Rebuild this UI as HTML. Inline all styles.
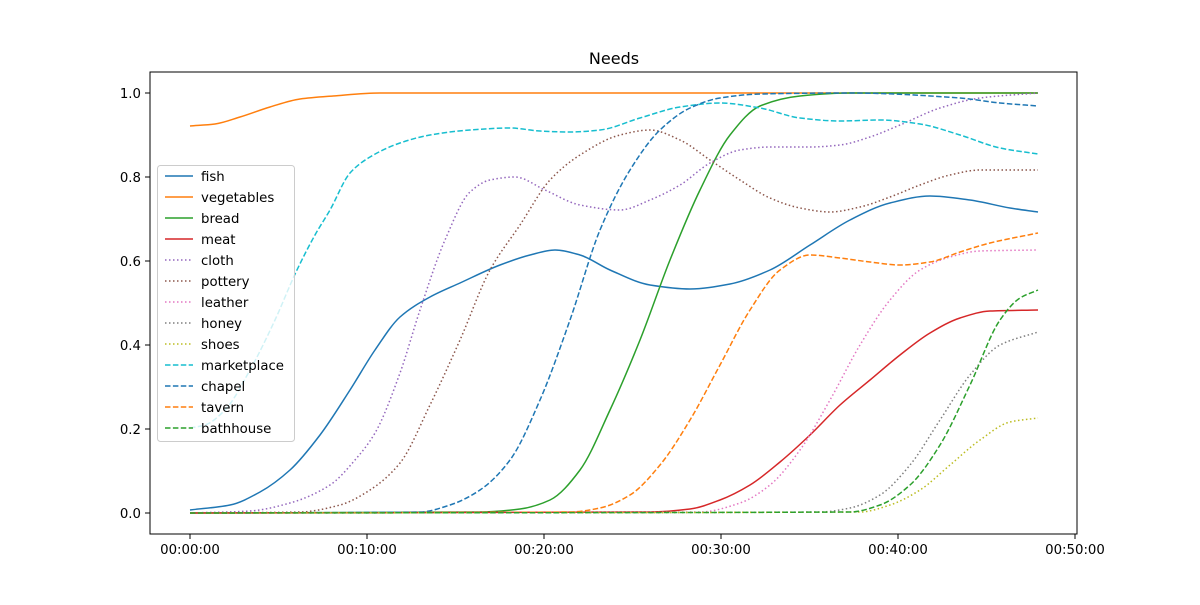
<!DOCTYPE html>
<html><head><meta charset="utf-8"><style>
body{margin:0;background:#fff}
svg text{font-family:"DejaVu Sans","Liberation Sans",sans-serif;font-size:13.3px;fill:#000}
</style></head><body>
<svg id="s" width="1200" height="600" xmlns="http://www.w3.org/2000/svg">
<rect width="1200" height="600" fill="#fff"/>
<text x="614" y="64" text-anchor="middle" style="font-size:16px">Needs</text>
<g id="curves"></g>
<rect x="150" y="72" width="927" height="462" fill="none" stroke="#000" stroke-width="1"/>
<g id="ticks"></g>
<g id="legend"></g>
</svg>
<script>
const NS="http://www.w3.org/2000/svg";
function el(t,a,p){const e=document.createElementNS(NS,t);for(const k in a)e.setAttribute(k,a[k]);p.appendChild(e);return e;}
const T=document.getElementById('ticks');
for(let i=0;i<=5;i++){const v=i*0.2,y=513-420*v;el('line',{x1:150,x2:145,y1:y,y2:y,stroke:'#000'},T);
const t=el('text',{x:141,y:y+5,'text-anchor':'end'},T);t.textContent=v.toFixed(1);}
for(let i=0;i<=5;i++){const x=190+177*i;el('line',{x1:x,x2:x,y1:534,y2:539,stroke:'#000'},T);
const t=el('text',{x:x,y:554,'text-anchor':'middle'},T);t.textContent='00:'+String(i*10).padStart(2,'0')+':00';}
function path(p){const n=p.length,d=[],m=[];
for(let i=0;i<n-1;i++)d.push((p[i+1][1]-p[i][1])/(p[i+1][0]-p[i][0]));
m[0]=d[0];m[n-1]=d[n-2];
for(let i=1;i<n-1;i++){if(d[i-1]*d[i]<=0)m[i]=0;else{const h0=p[i][0]-p[i-1][0],h1=p[i+1][0]-p[i][0];const w1=2*h1+h0,w2=h1+2*h0;m[i]=(w1+w2)/(w1/d[i-1]+w2/d[i]);}}
if(d[0]===0)m[0]=0;if(d[n-2]===0)m[n-1]=0;
let s='M'+p[0][0]+','+p[0][1];
for(let i=0;i<n-1;i++){const h=(p[i+1][0]-p[i][0])/3;
s+=' C'+(p[i][0]+h)+','+(p[i][1]+m[i]*h)+' '+(p[i+1][0]-h)+','+(p[i+1][1]-m[i+1]*h)+' '+p[i+1][0]+','+p[i+1][1];}
return s;}
const SOL='',DOT='1.5,2.5',DASH='5.5,2.4';
const S=[
['fish','#1f77b4',SOL,[[190,510],[230,505],[260,492],[290,470],[320,435],[350,390],[375,350],[400,317],[430,297],[460,283],[500,265],[530,255],[555,250],[580,255],[610,270],[650,285],[690,289],[730,284],[770,270],[810,245],[850,220],[890,203],[930,196],[970,200],[1010,208],[1038,212]]],
['vegetables','#ff7f0e',SOL,[[190,126],[215,124],[240,117],[270,107],[300,99],[333,96],[380,93],[1038,93]]],
['bread','#2ca02c',SOL,[[190,513],[480,512],[520,509],[550,500],[580,470],[610,410],[640,340],[670,260],[700,190],[730,135],[760,106],[800,96],[850,93],[1038,93]]],
['meat','#d62728',SOL,[[190,513],[650,512],[690,509],[720,500],[750,485],[780,462],[810,435],[840,405],[870,380],[900,355],[930,333],[960,318],[990,311],[1038,310]]],
['cloth','#9467bd',DOT,[[190,513],[250,511],[290,503],[330,485],[355,460],[375,433],[400,373],[420,310],[445,240],[470,192],[490,180],[515,177],[545,190],[580,205],[620,210],[650,200],[680,185],[710,163],[740,150],[770,147],[810,147],[840,145],[870,137],[900,125],[940,108],[980,98],[1038,93]]],
['pottery','#8c564b',DOT,[[190,513],[300,512],[340,505],[370,490],[400,463],[430,405],[460,340],[490,270],[520,225],[550,180],[580,155],[620,135],[650,130],[680,140],[710,160],[740,180],[770,198],[800,208],[830,212],[860,207],[890,197],[920,185],[950,175],[980,170],[1010,170],[1038,170]]],
['leather','#e377c2',DOT,[[190,513],[700,512],[740,503],[770,485],[800,450],[830,400],[860,345],[890,300],[920,270],[950,257],[980,251],[1038,250]]],
['honey','#7f7f7f',DOT,[[190,513],[820,512],[850,508],[880,495],[910,465],[940,420],[970,375],[1000,345],[1038,332]]],
['shoes','#bcbd22',DOT,[[190,513],[860,512],[890,505],[920,490],[950,465],[980,440],[1010,422],[1038,418]]],
['marketplace','#17becf',DASH,[[190,428],[205,425],[225,410],[250,370],[275,320],[296,272],[315,235],[330,210],[350,173],[370,157],[400,143],[430,135],[470,130],[510,128],[540,131],[570,132],[600,130],[640,118],[680,107],[720,103],[760,108],[800,118],[840,121],[880,120],[920,124],[960,135],[1000,148],[1038,154]]],
['chapel','#1f77b4',DASH,[[190,513],[420,512],[450,505],[480,490],[510,460],[540,400],[570,320],[600,230],[630,170],[660,130],[690,108],[720,98],[760,94],[850,93],[960,98],[1000,103],[1038,106]]],
['tavern','#ff7f0e',DASH,[[190,513],[570,512],[600,508],[630,495],[660,465],[690,420],[720,365],[750,310],[780,270],[810,255],[840,258],[870,262],[900,265],[930,262],[960,252],[990,243],[1038,233]]],
['bathhouse','#2ca02c',DASH,[[190,513],[850,512],[880,505],[910,485],[940,445],[970,385],[1000,320],[1020,298],[1038,290]]]
];
const C=document.getElementById('curves'),L=document.getElementById('legend');
el('rect',{x:157.5,y:165.5,width:137,height:276,rx:3,fill:'#fff','fill-opacity':0.8,stroke:'#ccc'},L);
S.forEach((s,i)=>{const a={d:path(s[3]),fill:'none',stroke:s[1],'stroke-width':1.5};if(s[2])a['stroke-dasharray']=s[2];el('path',a,C);
const y=176+21*i;const b={x1:165,x2:193,y1:y,y2:y,stroke:s[1],'stroke-width':1.5};if(s[2])b['stroke-dasharray']=s[2];el('line',b,L);
const t=el('text',{x:201,y:y+5},L);t.textContent=s[0];});
</script>
</body></html>
